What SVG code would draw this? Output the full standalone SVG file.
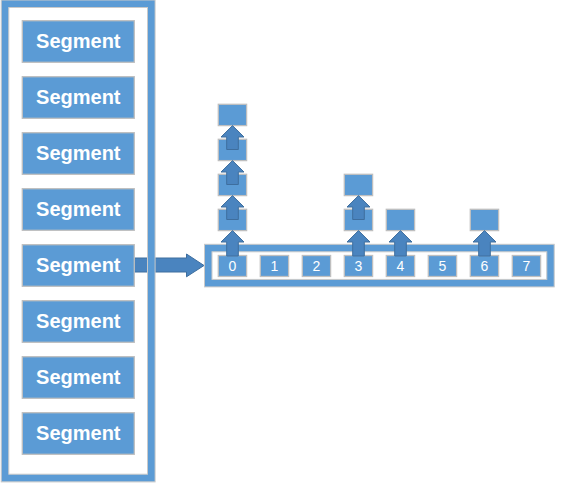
<svg xmlns="http://www.w3.org/2000/svg" width="564" height="484" viewBox="0 0 564 484">
<style>
.box{fill:#5B9BD5;stroke:#BFBFBF;stroke-width:1.3}
.frame{fill:none;stroke:#5B9BD5;stroke-width:7.5}
.edge{fill:none;stroke:#C9C9C9;stroke-width:1}
.seg{font-family:"Liberation Sans",Arial,sans-serif;font-weight:bold;font-size:20px;fill:#FFFFFF;text-anchor:middle}
.num{font-family:"Liberation Sans",Arial,sans-serif;font-size:14px;fill:#FFFFFF;text-anchor:middle}
.arr{fill:#4A84BF;stroke:#3E6E9E;stroke-width:1}
</style>
<rect width="564" height="484" fill="#FFFFFF"/>
<g id="array">
  <rect class="frame" x="208.2" y="248" width="342.3" height="35.2"/>
  <rect class="edge" x="204.5" y="244.3" width="349.7" height="42.6"/>
  <rect class="edge" x="212" y="251.8" width="334.8" height="27.6"/>
</g>
<g id="cell0"><rect class="box" x="218.3" y="255.5" width="28.3" height="21"/><text class="num" x="232.5" y="270.5">0</text></g>
<g id="cell1"><rect class="box" x="260.3" y="255.5" width="28.3" height="21"/><text class="num" x="274.5" y="270.5">1</text></g>
<g id="cell2"><rect class="box" x="302.3" y="255.5" width="28.3" height="21"/><text class="num" x="316.5" y="270.5">2</text></g>
<g id="cell3"><rect class="box" x="344.3" y="255.5" width="28.3" height="21"/><text class="num" x="358.5" y="270.5">3</text></g>
<g id="cell4"><rect class="box" x="386.3" y="255.5" width="28.3" height="21"/><text class="num" x="400.5" y="270.5">4</text></g>
<g id="cell5"><rect class="box" x="428.3" y="255.5" width="28.3" height="21"/><text class="num" x="442.5" y="270.5">5</text></g>
<g id="cell6"><rect class="box" x="470.3" y="255.5" width="28.3" height="21"/><text class="num" x="484.5" y="270.5">6</text></g>
<g id="cell7"><rect class="box" x="512.3" y="255.5" width="28.3" height="21"/><text class="num" x="526.5" y="270.5">7</text></g>
<g id="node0a"><rect class="box" x="218.3" y="209.3" width="28.3" height="21.3"/></g>
<g id="node0b"><rect class="box" x="218.3" y="174.3" width="28.3" height="21.3"/></g>
<g id="node0c"><rect class="box" x="218.3" y="139.3" width="28.3" height="21.3"/></g>
<g id="node0d"><rect class="box" x="218.3" y="104.3" width="28.3" height="21.3"/></g>
<g id="node3a"><rect class="box" x="344.3" y="209.3" width="28.3" height="21.3"/></g>
<g id="node3b"><rect class="box" x="344.3" y="174.3" width="28.3" height="21.3"/></g>
<g id="node4a"><rect class="box" x="386.3" y="209.3" width="28.3" height="21.3"/></g>
<g id="node6a"><rect class="box" x="470.3" y="209.3" width="28.3" height="21.3"/></g>
<g id="connectors">
  <polygon class="arr" points="134,258 186.5,258 186.5,254 204,265.5 186.5,276.8 186.5,272 134,272"/>
  <polygon class="arr" points="232.5,230.6 244,242 238.3,242 238.3,256 226.7,256 226.7,242 221,242"/>
  <polygon class="arr" points="232.5,195.6 244,207 238.3,207 238.3,219.5 226.7,219.5 226.7,207 221,207"/>
  <polygon class="arr" points="232.5,160.6 244,172 238.3,172 238.3,184.5 226.7,184.5 226.7,172 221,172"/>
  <polygon class="arr" points="232.5,125.6 244,137 238.3,137 238.3,149.5 226.7,149.5 226.7,137 221,137"/>
  <polygon class="arr" points="358.5,230.6 370,242 364.3,242 364.3,256 352.7,256 352.7,242 347,242"/>
  <polygon class="arr" points="358.5,195.6 370,207 364.3,207 364.3,219.5 352.7,219.5 352.7,207 347,207"/>
  <polygon class="arr" points="400.5,230.6 412,242 406.3,242 406.3,256 394.7,256 394.7,242 389,242"/>
  <polygon class="arr" points="484.5,230.6 496,242 490.3,242 490.3,256 478.7,256 478.7,242 473,242"/>
</g>
<g id="segments">
  <rect class="frame" x="5" y="3.7" width="146.3" height="474.3"/>
  <rect class="edge" x="1.2" y="0" width="153.9" height="481.9"/>
  <rect class="edge" x="8.8" y="7.5" width="138.7" height="466.7"/>
</g>
<g id="seg0"><rect class="box" x="22.3" y="20.7" width="112" height="41.6"/><text class="seg" x="78.3" y="48">Segment</text></g>
<g id="seg1"><rect class="box" x="22.3" y="76.7" width="112" height="41.6"/><text class="seg" x="78.3" y="104">Segment</text></g>
<g id="seg2"><rect class="box" x="22.3" y="132.7" width="112" height="41.6"/><text class="seg" x="78.3" y="160">Segment</text></g>
<g id="seg3"><rect class="box" x="22.3" y="188.7" width="112" height="41.6"/><text class="seg" x="78.3" y="216">Segment</text></g>
<g id="seg4"><rect class="box" x="22.3" y="244.7" width="112" height="41.6"/><text class="seg" x="78.3" y="272">Segment</text></g>
<g id="seg5"><rect class="box" x="22.3" y="300.7" width="112" height="41.6"/><text class="seg" x="78.3" y="328">Segment</text></g>
<g id="seg6"><rect class="box" x="22.3" y="356.7" width="112" height="41.6"/><text class="seg" x="78.3" y="384">Segment</text></g>
<g id="seg7"><rect class="box" x="22.3" y="412.7" width="112" height="41.6"/><text class="seg" x="78.3" y="440">Segment</text></g>
</svg>
